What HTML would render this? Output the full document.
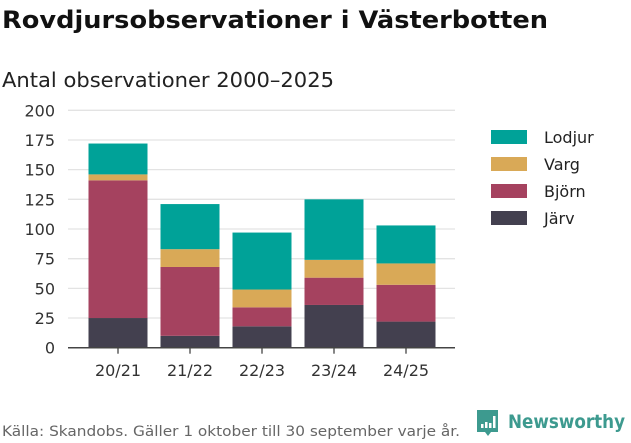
<!DOCTYPE html>
<html><head><meta charset="utf-8"><style>
body{margin:0;width:631px;height:439px;background:#fff;font-family:"DejaVu Sans","Liberation Sans",sans-serif;overflow:hidden}
</style></head><body>
<svg width="631" height="439" font-family="DejaVu Sans, Liberation Sans, sans-serif">
<text x="2" y="28" font-size="24" font-weight="bold" fill="#111" textLength="546" lengthAdjust="spacingAndGlyphs">Rovdjursobservationer i Västerbotten</text>
<text x="2" y="87" font-size="20" fill="#222" textLength="332" lengthAdjust="spacingAndGlyphs">Antal observationer 2000–2025</text>
<g id="grid"></g><g id="bars"></g><g id="axes"></g><g id="legend"></g>
<text x="2" y="436" font-size="14" fill="#666" textLength="458" lengthAdjust="spacingAndGlyphs">Källa: Skandobs. Gäller 1 oktober till 30 september varje år.</text>
<g>
<path d="M477 410 h21 v22 h-7 l-3 4 l-3 -4 h-8 z" fill="#3d9a8f"/>
<rect x="481" y="424" width="2.5" height="4" fill="#fff"/><rect x="485" y="422" width="2.5" height="6" fill="#fff"/><rect x="489" y="423" width="2.5" height="5" fill="#fff"/><rect x="493" y="416" width="2.5" height="12" fill="#fff"/>
<text x="508" y="428" font-size="19" font-weight="bold" fill="#3d9a8f" textLength="117" lengthAdjust="spacingAndGlyphs">Newsworthy</text>
</g>
</svg>
<script>
const categories=["20/21","21/22","22/23","23/24","24/25"];
const jarv=[25,10,18,36,22];
const bjorn=[116,58,16,23,31];
const varg=[5,15,15,15,18];
const lodjur=[26,38,48,51,32];
const yTicks=[0,25,50,75,100,125,150,175,200];
const seriesNames=["Järv","Björn","Varg","Lodjur"];
const colors=["#43404f","#a5425f","#d9a957","#00a298"];
const NS="http://www.w3.org/2000/svg";
const y0=347.7,y1=110.3,xl=68,xr=455;
const y=v=>y0-(v/200)*(y0-y1);
const xc=i=>118+i*72;
function mk(t,a,p){const e=document.createElementNS(NS,t);for(const k in a)e.setAttribute(k,a[k]);p.appendChild(e);return e;}
const grid=document.getElementById('grid'),axes=document.getElementById('axes'),bars=document.getElementById('bars'),leg=document.getElementById('legend');
yTicks.forEach(v=>{
 if(v>0){const l=mk('line',{x1:xl,x2:xr,y1:y(v),y2:y(v),stroke:'#e3e3e3','stroke-width':1.3},grid);
 
 }
 const t=mk('text',{x:55,y:y(v)+6,'font-size':16,fill:'#333','text-anchor':'end'},axes);t.textContent=v;
 
 
});
const series=[jarv,bjorn,varg,lodjur];
categories.forEach((c,i)=>{
 let base=0;
 series.forEach((s,k)=>{
  const r=mk('rect',{x:xc(i)-29.5,width:59,y:y(base+s[i]),height:y(base)-y(base+s[i]),fill:colors[k]},bars);
  
  
  base+=s[i];
 });
 mk('line',{x1:xc(i),x2:xc(i),y1:y0,y2:y0+6,stroke:'#444','stroke-width':1.3},axes);
 const t=mk('text',{x:xc(i),y:376,'font-size':16,fill:'#333','text-anchor':'middle'},axes);t.textContent=c;
 
 
});
const ax=mk('line',{x1:xl,x2:xr,y1:y0,y2:y0,stroke:'#444','stroke-width':1.5},axes);


[3,2,1,0].forEach((k,j)=>{
 const g=mk('g',{},leg);
 
 
 mk('rect',{x:491,y:130+j*27,width:36,height:14,fill:colors[k]},g);
 const t=mk('text',{x:544,y:143+j*27,'font-size':16,fill:'#222'},g);t.textContent=seriesNames[k];
});
</script>
</body></html>
